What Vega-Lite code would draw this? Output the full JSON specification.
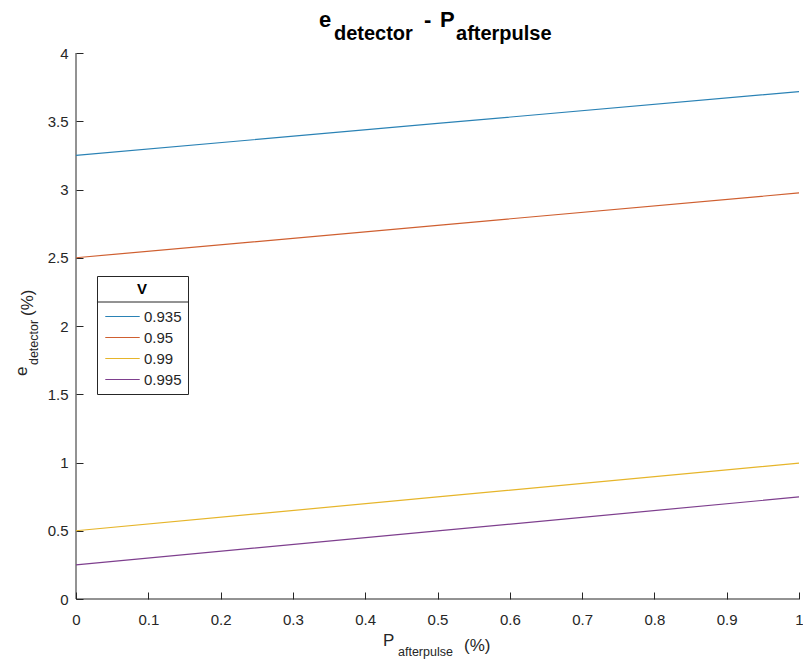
{
  "$schema": "https://vega.github.io/schema/vega-lite/v6.json",
  "width": 723,
  "height": 546,
  "autosize": {"type": "none"},
  "padding": {"left": 76, "top": 53, "right": 4, "bottom": 63},
  "background": "white",
  "config": {
    "font": "Liberation Sans",
    "view": {"stroke": null},
    "axis": {
      "grid": false,
      "domain": false,
      "tickColor": "#262626",
      "labelColor": "#262626",
      "labelFont": "Liberation Sans",
      "labelFontSize": 15,
      "tickSize": 7,
      "offset": -7,
      "title": null
    },
    "legend": {
      "labelFont": "Liberation Sans",
      "titleFont": "Liberation Sans"
    }
  },
  "layer": [
    {
      "data": {"values": [{}]},
      "mark": {"type": "rule", "color": "#262626", "strokeWidth": 1},
      "encoding": {"x": {"datum": 0, "type": "quantitative"}}
    },
    {
      "data": {"values": [{}]},
      "mark": {"type": "rule", "color": "#262626", "strokeWidth": 1},
      "encoding": {"y": {"datum": 0, "type": "quantitative"}}
    },
    {
      "data": {"values": [{}]},
      "mark": {"type": "rule", "color": "#262626", "strokeWidth": 1},
      "encoding": {
        "x": {"datum": 0.029, "type": "quantitative"},
        "x2": {"datum": 0.1562},
        "y": {"datum": 2.1758, "type": "quantitative"}
      }
    },
    {
      "data": {
        "values": [
          {"V": "0.935", "P": 0, "e": 3.25},
          {"V": "0.935", "P": 0.5, "e": 3.48375},
          {"V": "0.935", "P": 1, "e": 3.7175},
          {"V": "0.95", "P": 0, "e": 2.5},
          {"V": "0.95", "P": 0.5, "e": 2.7375},
          {"V": "0.95", "P": 1, "e": 2.975},
          {"V": "0.99", "P": 0, "e": 0.5},
          {"V": "0.99", "P": 0.5, "e": 0.7475},
          {"V": "0.99", "P": 1, "e": 0.995},
          {"V": "0.995", "P": 0, "e": 0.25},
          {"V": "0.995", "P": 0.5, "e": 0.49875},
          {"V": "0.995", "P": 1, "e": 0.7475}
        ]
      },
      "mark": {"type": "line", "strokeWidth": 1.2},
      "encoding": {
        "x": {
          "field": "P",
          "type": "quantitative",
          "scale": {"domain": [0, 1], "nice": false, "zero": false},
          "axis": {"values": [0, 0.1, 0.2, 0.3, 0.4, 0.5, 0.6, 0.7, 0.8, 0.9, 1], "format": "~g", "labelPadding": 13, "labelFlush": false}
        },
        "y": {
          "field": "e",
          "type": "quantitative",
          "scale": {"domain": [0, 4], "nice": false, "zero": false},
          "axis": {"values": [0, 0.5, 1, 1.5, 2, 2.5, 3, 3.5, 4], "format": "~g", "labelPadding": 8, "labelFlush": false}
        },
        "color": {
          "field": "V",
          "type": "nominal",
          "sort": ["0.935", "0.95", "0.99", "0.995"],
          "scale": {
            "domain": ["0.935", "0.95", "0.99", "0.995"],
            "range": ["#2a82b5", "#cf5f30", "#e6b52a", "#7e3f8e"]
          },
          "legend": {
            "title": "V",
            "orient": "none",
            "legendX": 21,
            "legendY": 223,
            "titleAnchor": "middle",
            "titleFontSize": 15,
            "titleFontWeight": "bold",
            "titleColor": "#000000",
            "titlePadding": 12,
            "labelFontSize": 15,
            "labelColor": "#262626",
            "symbolType": "M-4.6,0H4.6",
            "symbolSize": 56,
            "symbolStrokeWidth": 1.2,
            "symbolFillColor": "transparent",
            "symbolOffset": 12,
            "labelOffset": 14,
            "rowPadding": 5,
            "padding": 6,
            "strokeColor": "#262626",
            "fillColor": "transparent"
          }
        }
      }
    },
    {
      "data": {"values": [{}]},
      "mark": {"type": "text", "text": "e", "fontSize": 22, "fontWeight": "bold", "align": "left", "baseline": "alphabetic", "color": "#000000"},
      "encoding": {"x": {"datum": 0.3361, "type": "quantitative"}, "y": {"datum": 4.1905, "type": "quantitative"}}
    },
    {
      "data": {"values": [{}]},
      "mark": {"type": "text", "text": "detector", "fontSize": 20, "fontWeight": "bold", "align": "left", "baseline": "alphabetic", "color": "#000000"},
      "encoding": {"x": {"datum": 0.3568, "type": "quantitative"}, "y": {"datum": 4.0952, "type": "quantitative"}}
    },
    {
      "data": {"values": [{}]},
      "mark": {"type": "text", "text": "-", "fontSize": 22, "fontWeight": "bold", "align": "left", "baseline": "alphabetic", "color": "#000000"},
      "encoding": {"x": {"datum": 0.4813, "type": "quantitative"}, "y": {"datum": 4.1905, "type": "quantitative"}}
    },
    {
      "data": {"values": [{}]},
      "mark": {"type": "text", "text": "P", "fontSize": 22, "fontWeight": "bold", "align": "left", "baseline": "alphabetic", "color": "#000000"},
      "encoding": {"x": {"datum": 0.5035, "type": "quantitative"}, "y": {"datum": 4.1905, "type": "quantitative"}}
    },
    {
      "data": {"values": [{}]},
      "mark": {"type": "text", "text": "afterpulse", "fontSize": 20, "fontWeight": "bold", "align": "left", "baseline": "alphabetic", "color": "#000000"},
      "encoding": {"x": {"datum": 0.5256, "type": "quantitative"}, "y": {"datum": 4.0952, "type": "quantitative"}}
    },
    {
      "data": {"values": [{}]},
      "mark": {"type": "text", "text": "P", "fontSize": 17, "align": "left", "baseline": "alphabetic", "color": "#262626"},
      "encoding": {"x": {"datum": 0.4246, "type": "quantitative"}, "y": {"datum": -0.3443, "type": "quantitative"}}
    },
    {
      "data": {"values": [{}]},
      "mark": {"type": "text", "text": "afterpulse", "fontSize": 12.5, "align": "left", "baseline": "alphabetic", "color": "#262626"},
      "encoding": {"x": {"datum": 0.4454, "type": "quantitative"}, "y": {"datum": -0.4176, "type": "quantitative"}}
    },
    {
      "data": {"values": [{}]},
      "mark": {"type": "text", "text": "(%)", "fontSize": 17, "align": "left", "baseline": "alphabetic", "color": "#262626"},
      "encoding": {"x": {"datum": 0.5367, "type": "quantitative"}, "y": {"datum": -0.381, "type": "quantitative"}}
    },
    {
      "data": {"values": [{}]},
      "mark": {"type": "text", "text": "e", "fontSize": 17, "angle": 270, "align": "left", "baseline": "alphabetic", "color": "#262626"},
      "encoding": {"x": {"datum": -0.0678, "type": "quantitative"}, "y": {"datum": 1.634, "type": "quantitative"}}
    },
    {
      "data": {"values": [{}]},
      "mark": {"type": "text", "text": "detector", "fontSize": 12.5, "angle": 270, "align": "left", "baseline": "alphabetic", "color": "#262626"},
      "encoding": {"x": {"datum": -0.0526, "type": "quantitative"}, "y": {"datum": 1.714, "type": "quantitative"}}
    },
    {
      "data": {"values": [{}]},
      "mark": {"type": "text", "text": "(%)", "fontSize": 17, "angle": 270, "align": "left", "baseline": "alphabetic", "color": "#262626"},
      "encoding": {"x": {"datum": -0.0595, "type": "quantitative"}, "y": {"datum": 2.073, "type": "quantitative"}}
    }
  ]
}
